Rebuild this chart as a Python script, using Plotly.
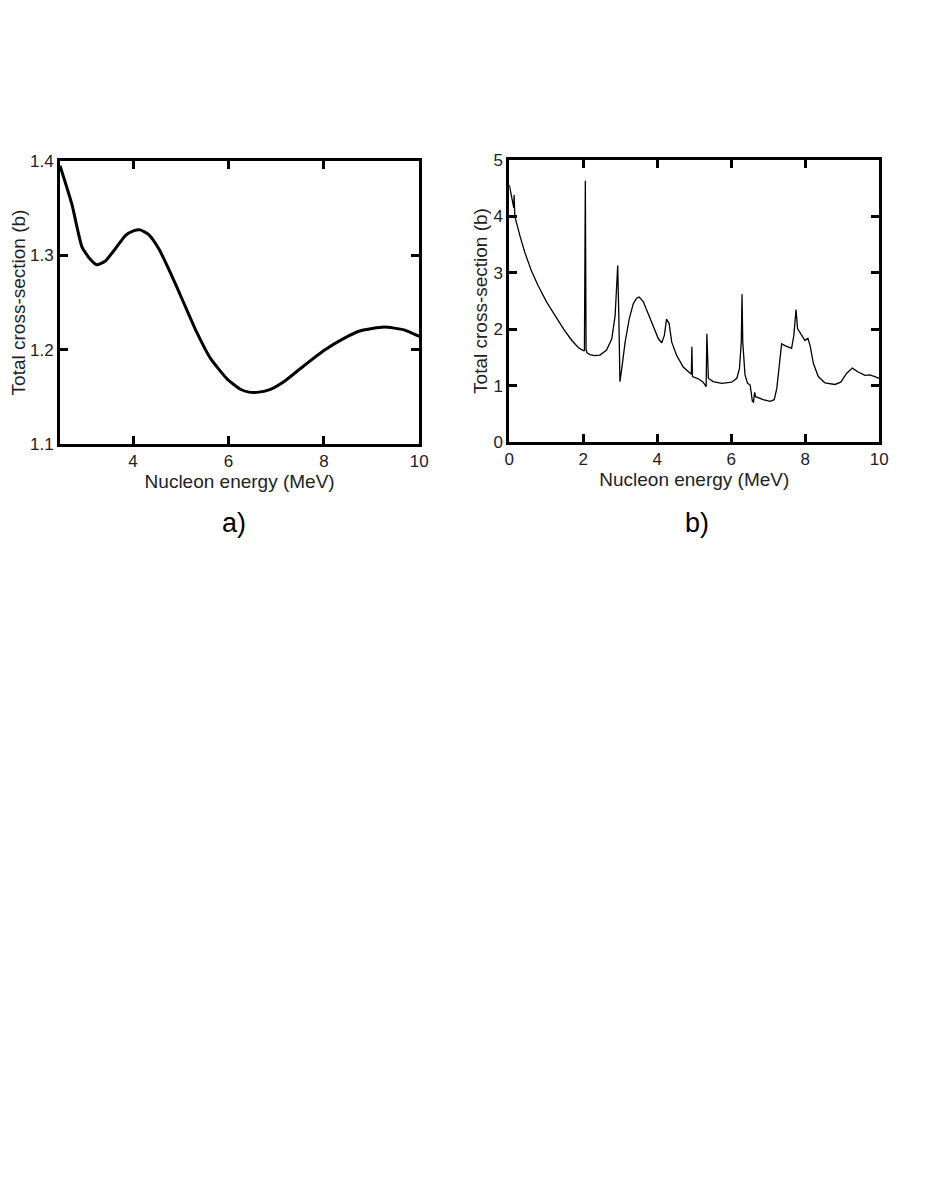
import plotly.graph_objects as go

# panel a) - smooth total cross-section
e_a = [2.47, 2.72, 2.93, 3.1, 3.24, 3.42, 3.63, 3.84, 4.01, 4.15, 4.33, 4.54, 4.78,
       5.06, 5.34, 5.62, 5.97, 6.25, 6.43, 6.64, 6.88, 7.16, 7.51, 8.0, 8.42, 8.77,
       9.26, 9.68, 10.0]
xs_a = [1.395, 1.354, 1.309, 1.296, 1.290, 1.294, 1.307, 1.321, 1.326, 1.327, 1.322,
        1.307, 1.282, 1.250, 1.218, 1.191, 1.169, 1.158, 1.155, 1.155, 1.158, 1.166,
        1.180, 1.199, 1.212, 1.220, 1.224, 1.221, 1.214]

# panel b) - resonant total cross-section
e_b = [0.0, 0.02, 0.08, 0.12, 0.13, 0.15, 0.29, 0.42, 0.6, 0.78, 1.01, 1.24, 1.46,
       1.69, 1.87, 2.0, 2.03, 2.055, 2.075, 2.1, 2.18, 2.3, 2.45, 2.63, 2.77, 2.86,
       2.9, 2.93, 2.96, 2.99, 3.04, 3.13, 3.24, 3.35, 3.44, 3.51, 3.62, 3.76, 3.89,
       4.03, 4.12, 4.19, 4.25, 4.32, 4.39, 4.52, 4.7, 4.88, 4.92, 4.935, 4.95, 5.11,
       5.24, 5.32, 5.34, 5.38, 5.51, 5.74, 6.01, 6.15, 6.22, 6.27, 6.29, 6.31, 6.37,
       6.44, 6.51, 6.57, 6.6, 6.63, 6.66, 6.71, 6.86, 7.05, 7.16, 7.23, 7.29, 7.36,
       7.45, 7.54, 7.63, 7.69, 7.75, 7.79, 7.9, 7.99, 8.07, 8.13, 8.22, 8.35, 8.53,
       8.8, 8.96, 9.12, 9.27, 9.43, 9.61, 9.74, 9.88, 10.0]
xs_b = [4.56, 4.50, 4.29, 4.15, 4.38, 4.00, 3.65, 3.36, 3.03, 2.77, 2.48, 2.24, 2.01,
        1.80, 1.67, 1.62, 1.62, 4.63, 1.64, 1.58, 1.55, 1.53, 1.54, 1.63, 1.83, 2.24,
        2.71, 3.13, 2.24, 1.07, 1.30, 1.77, 2.18, 2.45, 2.55, 2.57, 2.49, 2.27, 2.04,
        1.83, 1.76, 1.89, 2.18, 2.10, 1.77, 1.54, 1.33, 1.22, 1.20, 1.69, 1.16, 1.12,
        1.06, 0.98, 1.92, 1.13, 1.07, 1.04, 1.06, 1.13, 1.30, 1.77, 2.62, 1.77, 1.19,
        1.04, 1.01, 0.72, 0.71, 0.88, 0.80, 0.79, 0.75, 0.72, 0.75, 0.95, 1.36, 1.74,
        1.71, 1.68, 1.66, 1.89, 2.35, 2.01, 1.88, 1.80, 1.84, 1.71, 1.39, 1.16, 1.05,
        1.02, 1.06, 1.22, 1.31, 1.24, 1.18, 1.19, 1.16, 1.13]

x_title = "Nucleon energy (MeV)"
y_title = "Total cross-section (b)"
W, H = 926, 1199
OFF = 8  # page body margin

def px_x(p):
    return (p - OFF) / W

def px_y(p):
    return 1 - (p - OFF) / H

fig = go.Figure()
fig.add_trace(go.Scatter(x=e_a, y=xs_a, mode="lines", xaxis="x", yaxis="y",
                         line=dict(color="black", width=3, shape="spline", smoothing=0.5),
                         showlegend=False))
fig.add_trace(go.Scatter(x=e_b, y=xs_b, mode="lines", xaxis="x2", yaxis="y2",
                         line=dict(color="black", width=1.3), showlegend=False))

axis_style = dict(showline=True, linewidth=3, linecolor="black", mirror="ticks",
                  ticks="inside", ticklen=8, tickwidth=3, tickcolor="black",
                  showgrid=False, zeroline=False, automargin=False,
                  tickfont=dict(size=17, color="#222"))

fig.update_layout(
    width=W, height=H,
    margin=dict(l=0, r=0, t=0, b=0),
    paper_bgcolor="white", plot_bgcolor="white",
    font=dict(family="Liberation Sans, Arial, sans-serif", color="#222"),
    xaxis=dict(axis_style, domain=[px_x(60), px_x(419.3)], range=[2.47, 10],
               tickvals=[4, 6, 8, 10],
               title=dict(text=x_title, font=dict(size=19), standoff=0)),
    yaxis=dict(axis_style, domain=[px_y(444), px_y(161)], range=[1.1, 1.4],
               tickvals=[1.1, 1.2, 1.3, 1.4], tickformat=".1f",
               title=dict(text=y_title, font=dict(size=19), standoff=1)),
    xaxis2=dict(axis_style, domain=[px_x(509.3), px_x(879.3)], range=[0, 10],
                tickvals=[0, 2, 4, 6, 8, 10], anchor="y2",
                title=dict(text=x_title, font=dict(size=19), standoff=0)),
    yaxis2=dict(axis_style, domain=[px_y(442), px_y(160)], range=[0, 5],
                tickvals=[0, 1, 2, 3, 4, 5], anchor="x2",
                title=dict(text=y_title, font=dict(size=19), standoff=1)),
    annotations=[
        dict(text="a)", x=px_x(234), y=px_y(523), xref="paper", yref="paper",
             xanchor="center", yanchor="middle",
             showarrow=False, font=dict(size=27, color="black")),
        dict(text="b)", x=px_x(697), y=px_y(523), xref="paper", yref="paper",
             xanchor="center", yanchor="middle",
             showarrow=False, font=dict(size=27, color="black")),
    ],
)

fig.write_html("out.html")
